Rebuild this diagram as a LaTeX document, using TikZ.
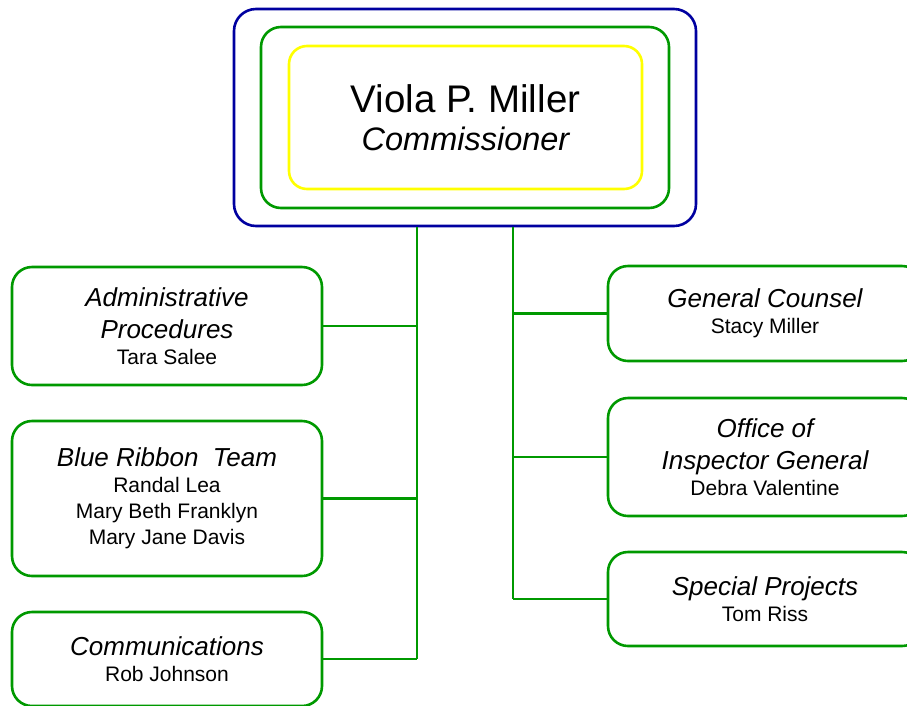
\documentclass[tikz,border=0pt]{standalone}
\usepackage{fontspec}
\setmainfont{Liberation Sans}
\usetikzlibrary{positioning}

\definecolor{chartblue}{RGB}{0,0,160}
\definecolor{chartgreen}{RGB}{0,153,0}
\definecolor{chartyellow}{RGB}{255,255,0}
\newcommand{\unittitle}{\fontsize{26}{31}\selectfont\itshape}
\newcommand{\unitname}{\fontsize{21}{26}\selectfont}

\begin{document}
\begin{tikzpicture}[x=1pt, y=-1pt, font=\unitname,
  unit/.style={draw=chartgreen, line width=2.6pt, rounded corners=20pt, fill=white, align=center, inner sep=0pt},
  ring/.style={line width=2.6pt, rounded corners=#1, inner sep=0pt},
  link/.style={chartgreen, line width=2.6pt}]
% x, y in pixels from the top left corner (1pt per pixel)
\useasboundingbox (0,0) rectangle (907,705);
\clip (0,0) rectangle (907,705);

% commissioner: three nested frames
\node[ring=22pt, draw=chartblue, minimum width=462pt, minimum height=217pt] (boss) at (465,117.5) {};
\node[ring=20pt, draw=chartgreen, minimum width=408pt, minimum height=181pt] (bossmid) at (465,117.5) {};
\node[ring=18pt, draw=chartyellow, minimum width=353pt, minimum height=143pt, align=center,
  font=\fontsize{38.5}{38}\selectfont] (bossin) at (465.5,117.5) {Viola P. Miller\\{\fontsize{32.5}{38}\selectfont\itshape Commissioner}};

% spines under the commissioner
\coordinate (lspine) at (417,0);
\coordinate (rspine) at (513,0);

% left column
\node[unit, minimum width=310pt, minimum height=118pt] (admin) at (167,326)
  {{\unittitle Administrative}\\[6pt]{\unittitle Procedures}\\Tara Salee};
\node[unit, minimum width=310pt, minimum height=155pt] (ribbon) at (167,498.5)
  {{\unittitle Blue Ribbon~ Team}\\Randal Lea\\Mary Beth Franklyn\\Mary Jane Davis};
\node[unit, minimum width=310pt, minimum height=94pt] (comm) at (167,659)
  {{\unittitle Communications}\\Rob Johnson};

% right column
\node[unit, minimum width=314pt, minimum height=95pt] (counsel) at (765,313.5)
  {{\unittitle General Counsel}\\Stacy Miller};
\node[unit, minimum width=314pt, minimum height=118pt] (inspector) at (765,457)
  {{\unittitle Office of}\\[6pt]{\unittitle Inspector General}\\Debra Valentine};
\node[unit, minimum width=314pt, minimum height=94pt] (special) at (765,599)
  {{\unittitle Special Projects}\\Tom Riss};

% connectors
\draw[link] (boss.south -| lspine) -- (comm.east -| lspine);
\draw[link] (boss.south -| rspine) -- (special.west -| rspine);
\foreach \b in {admin,ribbon,comm}
  \draw[link] (\b.east) -- (\b.east -| lspine);
\foreach \b in {counsel,inspector,special}
  \draw[link] (\b.west) -- (\b.west -| rspine);
\end{tikzpicture}
\end{document}
